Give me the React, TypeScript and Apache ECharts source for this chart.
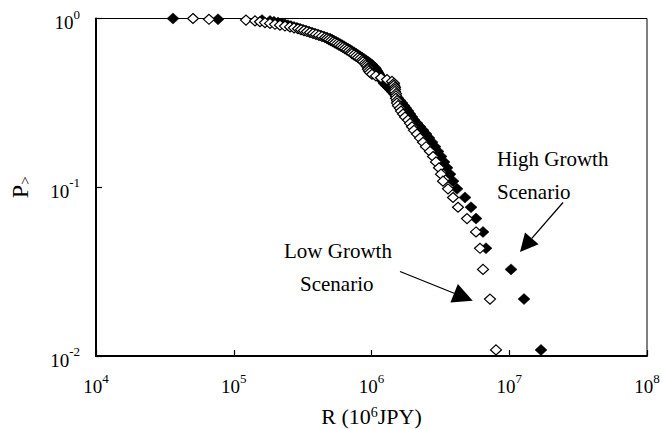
import React, { useEffect, useRef } from "react";
import * as echarts from "echarts";

// R values (10^6 JPY), sorted ascending
const lowGrowthR = [
  5.06e4, 6.61e4, 1.227e5, 1.427e5, 1.55e5, 1.686e5, 1.833e5, 1.993e5, 2.166e5, 2.355e5,
  2.561e5, 2.738e5, 2.927e5, 3.078e5, 3.236e5, 3.402e5, 3.577e5, 3.761e5, 3.954e5, 4.157e5,
  4.371e5, 4.596e5, 4.752e5, 4.913e5, 5.082e5, 5.254e5, 5.433e5, 5.617e5, 5.808e5, 6.005e5,
  6.209e5, 6.42e5, 6.638e5, 6.864e5, 7.097e5, 7.216e5, 7.462e5, 7.716e5, 7.98e5, 8.251e5,
  8.531e5, 8.675e5, 8.97e5, 9.122e5, 9.275e5, 9.432e5, 9.432e5, 9.59e5, 9.752e5, 1.008e6,
  1.078e6, 1.172e6, 1.296e6, 1.409e6, 1.457e6, 1.457e6, 1.481e6, 1.481e6, 1.481e6, 1.506e6,
  1.506e6, 1.506e6, 1.532e6, 1.532e6, 1.557e6, 1.61e6, 1.638e6, 1.693e6, 1.751e6, 1.841e6,
  1.904e6, 1.968e6, 2.035e6, 2.14e6, 2.25e6, 2.365e6, 2.487e6, 2.659e6, 2.796e6, 2.94e6,
  3.09e6, 3.196e6, 3.304e6, 3.592e6, 3.905e6, 4.246e6, 4.935e6, 5.737e6, 6.133e6, 6.449e6,
  7.248e6, 8.013e6,
];

const highGrowthR = [
  3.622e4, 7.686e4, 1.604e5, 1.833e5, 1.96e5, 2.096e5, 2.24e5, 2.355e5, 2.476e5, 2.603e5,
  2.738e5, 2.879e5, 3.027e5, 3.182e5, 3.346e5, 3.518e5, 3.699e5, 3.889e5, 4.089e5, 4.299e5,
  4.52e5, 4.752e5, 4.996e5, 5.167e5, 5.342e5, 5.525e5, 5.712e5, 5.906e5, 6.107e5, 6.315e5,
  6.529e5, 6.751e5, 6.98e5, 7.216e5, 7.462e5, 7.716e5, 7.98e5, 8.251e5, 8.531e5, 8.821e5,
  9.122e5, 9.432e5, 9.752e5, 1.008e6, 1.025e6, 1.06e6, 1.078e6, 1.096e6, 1.115e6, 1.133e6,
  1.153e6, 1.172e6, 1.192e6, 1.212e6, 1.232e6, 1.274e6, 1.318e6, 1.362e6, 1.409e6, 1.457e6,
  1.506e6, 1.557e6, 1.61e6, 1.665e6, 1.722e6, 1.78e6, 1.841e6, 1.904e6, 1.968e6, 2.035e6,
  2.14e6, 2.25e6, 2.365e6, 2.487e6, 2.615e6, 2.749e6, 2.891e6, 3.039e6, 3.196e6, 3.36e6,
  3.533e6, 3.715e6, 3.905e6, 4.176e6, 4.773e6, 5.277e6, 5.737e6, 6.449e6, 6.78e6, 1.03e7,
  1.28e7, 1.7e7,
];

const xRange = [1e4, 1e8];
const yRange = [1e-2, 1];

const FONT = "'Liberation Serif', 'Times New Roman', serif";
const INK = "#000";

// empirical complementary cumulative distribution P> (rank / N)
function ccdf(sortedAsc: number[]) {
  const n = sortedAsc.length;
  return sortedAsc.map((v, i) => [v, (n - i) / n]);
}

function powLabel(v: number) {
  const e = Math.round(Math.log10(v));
  return `{b|10}{s|${e}}`;
}

const tickRich = {
  b: { fontFamily: FONT, fontSize: 19, color: INK, padding: [8, 0, 0, 0] },
  s: { fontFamily: FONT, fontSize: 13, color: INK, padding: [0, 0, 9, 0] },
};

function arrow(start: number[], tip: number[], len: number, half: number) {
  const dx = tip[0] - start[0];
  const dy = tip[1] - start[1];
  const d = Math.hypot(dx, dy);
  const ux = dx / d;
  const uy = dy / d;
  const bx = tip[0] - len * ux;
  const by = tip[1] - len * uy;
  const nx = -uy;
  const ny = ux;
  return [
    {
      type: "line",
      shape: { x1: start[0], y1: start[1], x2: bx, y2: by },
      style: { stroke: INK, lineWidth: 1.3 },
    },
    {
      type: "polygon",
      shape: {
        points: [
          tip,
          [bx + half * nx, by + half * ny],
          [bx - half * nx, by - half * ny],
        ],
      },
      style: { fill: INK },
    },
  ];
}

const annFont = `21px ${FONT}`;

export default function App() {
  const ref = useRef<HTMLDivElement>(null);

  useEffect(() => {
    if (!ref.current) return;
    const chart = echarts.init(ref.current, undefined, { renderer: "svg" });
    chart.setOption({
      animation: false,
      backgroundColor: "#fff",
      grid: {
        left: 96,
        right: 15,
        top: 18.5,
        bottom: 73,
        show: true,
        borderColor: INK,
        borderWidth: 1,
        containLabel: false,
        outerBoundsMode: "none",
      },
      xAxis: {
        type: "log",
        logBase: 10,
        min: xRange[0],
        max: xRange[1],
        splitLine: { show: false },
        axisLine: { lineStyle: { color: INK, width: 2 } },
        axisTick: { inside: true, length: 6, lineStyle: { color: INK, width: 1.2 } },
        axisLabel: { margin: 13, formatter: powLabel, rich: tickRich },
        name: "{a|R (10}{s|6}{a|JPY)}",
        nameLocation: "middle",
        nameGap: 49,
        nameTextStyle: {
          rich: {
            a: { fontFamily: FONT, fontSize: 22, color: INK },
            s: { fontFamily: FONT, fontSize: 14, color: INK, padding: [0, 0, 9, 0] },
          },
        },
      },
      yAxis: {
        type: "log",
        logBase: 10,
        min: yRange[0],
        max: yRange[1],
        splitLine: { show: false },
        axisLine: { lineStyle: { color: INK, width: 2 } },
        axisTick: { inside: true, length: 6, lineStyle: { color: INK, width: 1.2 } },
        axisLabel: { margin: 16, formatter: powLabel, rich: tickRich },
        name: "{p|P}{sub|>}",
        nameLocation: "middle",
        nameRotate: 90,
        nameGap: 64,
        nameTextStyle: {
          rich: {
            p: { fontFamily: FONT, fontSize: 24, color: INK },
            sub: { fontFamily: FONT, fontSize: 15, color: INK, padding: [10, 0, 0, 0] },
          },
        },
      },
      series: [
        {
          name: "High Growth Scenario",
          type: "scatter",
          symbol: "diamond",
          symbolSize: [12, 11],
          clip: false,
          itemStyle: { color: INK, borderColor: INK, borderWidth: 0.5, opacity: 1 },
          data: ccdf(highGrowthR),
        },
        {
          name: "Low Growth Scenario",
          type: "scatter",
          symbol: "diamond",
          symbolSize: [11, 10],
          clip: false,
          itemStyle: { color: "#fff", borderColor: INK, borderWidth: 1.2, opacity: 1 },
          data: ccdf(lowGrowthR),
        },
      ],
      graphic: [
        {
          type: "text",
          x: 497,
          y: 159,
          style: { text: "High Growth", font: annFont, fill: INK, align: "left", verticalAlign: "middle" },
        },
        {
          type: "text",
          x: 497,
          y: 192,
          style: { text: "Scenario", font: annFont, fill: INK, align: "left", verticalAlign: "middle" },
        },
        {
          type: "text",
          x: 284,
          y: 251,
          style: { text: "Low Growth", font: annFont, fill: INK, align: "left", verticalAlign: "middle" },
        },
        {
          type: "text",
          x: 300,
          y: 284,
          style: { text: "Scenario", font: annFont, fill: INK, align: "left", verticalAlign: "middle" },
        },
        ...arrow([563, 202.5], [520, 252], 18, 9),
        ...arrow([400, 271.5], [472.7, 300.7], 20, 10),
      ],
    });
    return () => chart.dispose();
  }, []);

  return (
    <div
      ref={ref}
      style={{ position: "fixed", left: 0, top: 0, width: 662, height: 429 }}
    />
  );
}
